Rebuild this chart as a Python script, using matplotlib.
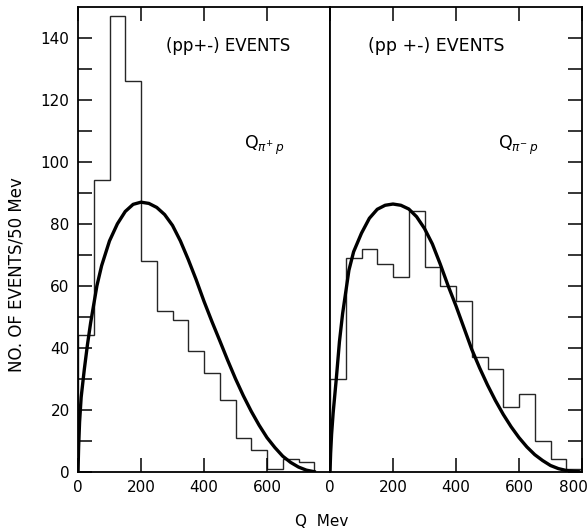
import matplotlib
matplotlib.use("Agg")
import matplotlib.pyplot as plt
import matplotlib.transforms as mtransforms

# ---- data ----
bin_edges = [0, 50, 100, 150, 200, 250, 300, 350, 400, 450, 500, 550, 600, 650, 700, 750]
left_counts = [44, 94, 147, 126, 68, 52, 49, 39, 32, 23, 11, 7, 1, 4, 3]

bin_edges_right = [0, 50, 100, 150, 200, 250, 300, 350, 400, 450, 500, 550, 600, 650, 700, 750, 800]
right_counts = [30, 69, 72, 67, 63, 84, 66, 60, 55, 37, 33, 21, 25, 10, 4, 1]

left_curve_q = [0, 2, 5, 10, 20, 30, 40, 50, 60, 75, 100, 125, 150, 175, 200, 225, 250, 275,
                300, 325, 350, 375, 400, 425, 450, 475, 500, 525, 550, 575, 600, 625, 650,
                675, 700, 725, 750]
left_curve_v = [0, 8, 16, 24, 33, 41, 48, 54, 60, 66.5, 74.5, 80, 84, 86.3, 87, 86.6, 85.3, 83,
                79.5, 74.5, 68.5, 62, 55, 48.5, 42.3, 36, 30, 24.5, 19.5, 15, 11, 7.8, 5,
                3, 1.5, 0.5, 0]

right_curve_q = [0, 2, 5, 10, 20, 30, 40, 50, 60, 75, 100, 125, 150, 175, 200, 225, 250, 275,
                 300, 325, 350, 375, 400, 425, 450, 475, 500, 525, 550, 575, 600, 625, 650,
                 675, 700, 725, 750, 775, 790]
right_curve_v = [0, 6, 12, 19, 30, 42, 51, 58, 65, 71, 77, 81.8, 84.7, 86, 86.4, 86, 84.8, 82.3,
                 78.5, 73.5, 67, 60, 53.5, 46.5, 39.5, 33.5, 28, 23, 18.5, 14.5, 11, 8, 5.5,
                 3.6, 2, 1, 0.4, 0.1, 0]

left_xticks = [0, 200, 400, 600]
right_xticks = [0, 200, 400, 600, 800]
yticks_major = [0, 20, 40, 60, 80, 100, 120, 140]
yticks_all = list(range(0, 150, 10))

fig = plt.figure(figsize=(5.87, 5.31), dpi=100)
axL = fig.add_axes([78/587, 1 - 471.7/531, 252/587, 464.7/531])
axR = fig.add_axes([330/587, 1 - 471.7/531, 252/587, 464.7/531])

for ax in (axL, axR):
    ax.set_xlim(0, 800)
    ax.set_ylim(0, 150)
    for s in ax.spines.values():
        s.set_linewidth(1.3)
    ax.tick_params(direction='in', length=10, width=1.1, labelsize=11, pad=6)

axL.stairs(left_counts, bin_edges, baseline=0, fill=False, color='#262626', linewidth=1.0)
axL.plot(left_curve_q, left_curve_v, color='black', linewidth=2.4, solid_joinstyle='round')
axR.stairs(right_counts, bin_edges_right, baseline=0, fill=False, color='#262626', linewidth=1.0)
axR.plot(right_curve_q, right_curve_v, color='black', linewidth=2.4, solid_joinstyle='round')

axL.set_xticks(left_xticks)
axR.set_xticks(right_xticks)
axL.set_yticks(yticks_all)
axL.set_yticklabels([str(v) if v in yticks_major else '' for v in yticks_all])
axR.set_yticks(yticks_all)
axL.tick_params(axis='x', top=True, bottom=True)
axL.tick_params(axis='y', left=True, right=False)
axR.tick_params(axis='x', top=True, bottom=True)
axR.tick_params(axis='y', left=False, right=True, labelleft=False, labelright=False)

# shift the last "800" label left so it stays inside the figure
fig.canvas.draw()
last = axR.get_xticklabels()[-1]
last.set_transform(last.get_transform() + mtransforms.ScaledTranslation(-9/100, 0, fig.dpi_scale_trans))

axL.text(0.35, 0.905, '(pp+-) EVENTS', transform=axL.transAxes, fontsize=12)
axR.text(0.15, 0.905, '(pp +-) EVENTS', transform=axR.transAxes, fontsize=12.5)
axL.text(0.66, 0.695, r'Q$_{\pi^{+}\,p}$', transform=axL.transAxes, fontsize=12.5)
axR.text(0.665, 0.695, r'Q$_{\pi^{-}\,p}$', transform=axR.transAxes, fontsize=12.5)

fig.text(17/587, 1 - 275/531, 'NO. OF EVENTS/50 Mev', rotation=90, ha='center', va='center', fontsize=12)
fig.text(322/587, 1 - 521/531, 'Q  Mev', ha='center', va='center', fontsize=11)

fig.savefig('out.png', dpi=100)
